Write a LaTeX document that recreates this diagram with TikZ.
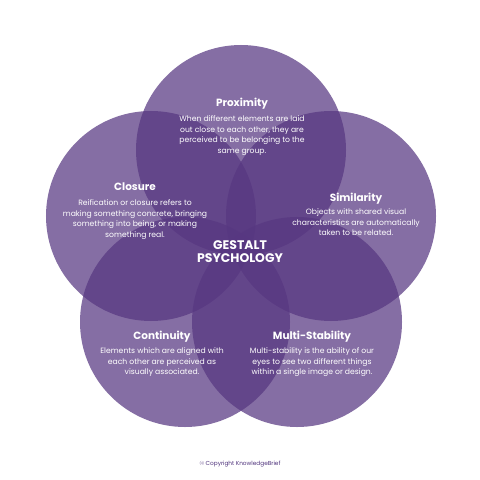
\documentclass[tikz,border=0pt]{standalone}
\usepackage{fontspec}
\setmainfont{Poppins}
\definecolor{gpurple}{RGB}{87,55,129}
\definecolor{cpurple}{RGB}{80,52,125}
\begin{document}
\begin{tikzpicture}[x=1bp,y=-1bp,
  petal/.style={circle, minimum size=210bp, inner sep=0pt, fill=gpurple, fill opacity=0.72, draw=none},
  ttl/.style={text=white, font=\fontsize{10.5}{12}\selectfont\bfseries, inner sep=0pt, anchor=base},
  body/.style={text=white, font=\fontsize{7.7}{10.7}\selectfont, align=center, inner sep=0pt, anchor=north},
  core/.style={text=white, font=\fontsize{12.5}{13}\selectfont\bfseries, align=center, inner sep=0pt},
  credit/.style={text=cpurple, font=\fontsize{5.8}{7}\selectfont, inner sep=0pt}]
\fill[white] (0,0) rectangle (480,480);
\useasboundingbox (0,0) rectangle (480,480);
% circles
\node[petal] (cP) at (241,150) {};
\node[petal] (cC) at (151,216) {};
\node[petal] (cS) at (331,216) {};
\node[petal] (cK) at (185,322) {};
\node[petal] (cM) at (297,322) {};
% titles
\node[ttl] (tP) at (242,107) {Proximity};
\node[ttl] (tC) at (135,191) {Closure};
\node[ttl] (tS) at (356,201) {Similarity};
\node[ttl] (tK) at (162,339) {Continuity};
\node[ttl] (tM) at (312,339) {Multi-Stability};
% bodies
\node[body] (bP) at (242,115.5) {When different elements are laid\\out close to each other, they are\\perceived to be belonging to the\\same group.};
\node[body] (bC) at (135,199.5) {Reification or closure refers to\\making something concrete, bringing\\something into being, or making\\something real.};
\node[body] (bS) at (356,208.5) {Objects with shared visual\\characteristics are automatically\\taken to be related.};
\node[body] (bK) at (162,347.5) {Elements which are aligned with\\each other are perceived as\\visually associated.};
\node[body] (bM) at (312,347.5) {Multi-stability is the ability of our\\eyes to see two different things\\within a single image or design.};
% centre
\node[core] (g) at (240,251.5) {GESTALT\\PSYCHOLOGY};
% credit
\node[credit] (cr) at (240,464) {© Copyright KnowledgeBrief};
\end{tikzpicture}
\end{document}
